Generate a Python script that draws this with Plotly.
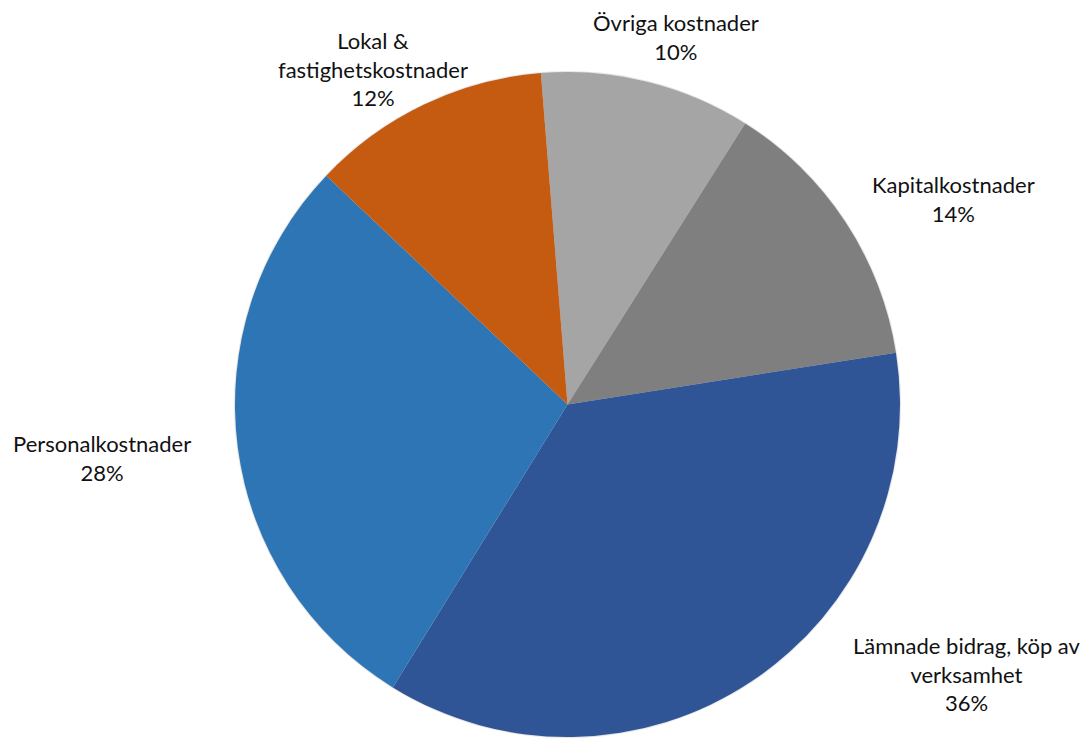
import plotly.graph_objects as go

labels = ["Övriga kostnader", "Kapitalkostnader", "Lämnade bidrag, köp av verksamhet",
          "Personalkostnader", "Lokal & fastighetskostnader"]
values = [10.25, 13.54, 36.29, 28.28, 11.64]
display_labels = ["Övriga kostnader", "Kapitalkostnader", "Lämnade bidrag, köp av<br>verksamhet",
                  "Personalkostnader", "Lokal &<br>fastighetskostnader"]
colors = ["#A5A5A5", "#7F7F7F", "#2F5597", "#2E75B6", "#C55A11"]

# label block centers in pixels (x, y from top)
label_pos = [(676, 36.5), (953, 199.5), (967, 674), (101.5, 458), (373, 68.5)]

W, H = 1090, 738
cx, cy, r = 567.5, 404.5, 332.5

def clamp(v):
    return min(1.0, max(0.0, v))

fig = go.Figure()

# soft shadow layer
sr = r + 2
fig.add_trace(go.Pie(
    values=[1], marker=dict(colors=["rgba(0,0,0,0.10)"], line=dict(width=0)),
    textinfo="none", hoverinfo="skip", showlegend=False, sort=False,
    domain=dict(x=[clamp((cx - sr) / W), clamp((cx + sr) / W)],
                y=[clamp(1 - (cy + 1 + sr) / H), clamp(1 - (cy + 1 - sr) / H)]),
))

fig.add_trace(go.Pie(
    labels=labels, values=values, sort=False, direction="clockwise", rotation=-4.6,
    marker=dict(colors=colors, line=dict(width=0)),
    textinfo="none", showlegend=False,
    domain=dict(x=[clamp((cx - r) / W), clamp((cx + r) / W)],
                y=[clamp(1 - (cy + r) / H), clamp(1 - (cy - r) / H)]),
))

total = sum(values)
for lab, v, (px, py) in zip(display_labels, values, label_pos):
    fig.add_annotation(
        x=px / W, y=1 - py / H, xref="paper", yref="paper",
        text=f"{lab}<br>{round(100 * v / total)}%", showarrow=False,
        xanchor="center", yanchor="middle", align="center",
        font=dict(family="Lato", size=22, color="#111111"),
    )

fig.update_layout(width=W, height=H, margin=dict(l=0, r=0, t=0, b=0),
                  paper_bgcolor="white", plot_bgcolor="white")
fig.write_html("out.html", config={"displayModeBar": False},
               post_script="document.body.style.margin='0';document.body.style.overflow='hidden';")
